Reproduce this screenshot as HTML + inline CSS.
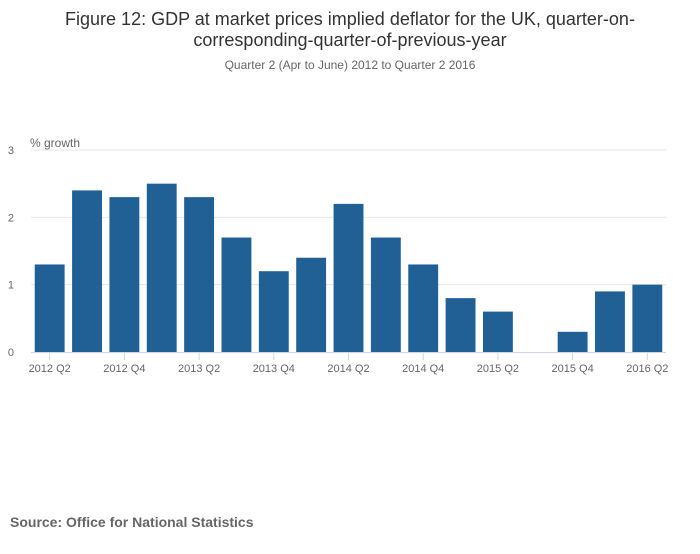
<!DOCTYPE html>
<html><head><meta charset="utf-8"><style>
body{margin:0;width:700px;height:549px;background:#fff;font-family:"Liberation Sans",sans-serif;overflow:hidden}
</style></head><body>
<svg width="700" height="549" xmlns="http://www.w3.org/2000/svg">
<text x="350" y="25" text-anchor="middle" font-size="18" fill="#333">Figure 12: GDP at market prices implied deflator for the UK, quarter-on-</text>
<text x="350" y="46" text-anchor="middle" font-size="18" fill="#333">corresponding-quarter-of-previous-year</text>
<text x="350" y="69" text-anchor="middle" font-size="12" fill="#666">Quarter 2 (Apr to June) 2012 to Quarter 2 2016</text>
<text x="30" y="147" font-size="12" fill="#666">% growth</text>
<g id="grid"></g><g id="bars"></g><g id="xaxis"></g>
<text x="10" y="527" font-size="14" font-weight="bold" fill="#666">Source: Office for National Statistics</text>
</svg>
<script>
const categories=["2012 Q2","2012 Q3","2012 Q4","2013 Q1","2013 Q2","2013 Q3","2013 Q4","2014 Q1","2014 Q2","2014 Q3","2014 Q4","2015 Q1","2015 Q2","2015 Q3","2015 Q4","2016 Q1","2016 Q2"];
const values=[1.3,2.4,2.3,2.5,2.3,1.7,1.2,1.4,2.2,1.7,1.3,0.8,0.6,0.0,0.3,0.9,1.0];
const yTicks=[0,1,2,3];
const ns="http://www.w3.org/2000/svg";
const x0=31,x1=666,yBase=352,yTop=150,yMax=3;
const band=(x1-x0)/categories.length;
const xPos=i=>x0+i*band;
const yPos=v=>yBase-(v/yMax)*(yBase-yTop);
function mk(t,a,p){const e=document.createElementNS(ns,t);for(const k in a)e.setAttribute(k,a[k]);p.appendChild(e);return e;}
const g=document.getElementById('grid');
yTicks.forEach(t=>{
 const y=yPos(t);
 if(t>0){const l=mk('line',{x1:x0,x2:x1,y1:y,y2:y,stroke:'#e6e6e6'},g);
 
 }
 const tx=mk('text',{x:14,y:y+4,'font-size':11,fill:'#666','text-anchor':'end'},g);tx.textContent=t;
 
 
});
const b=document.getElementById('bars');
values.forEach((v,i)=>{
 const r=mk('rect',{x:xPos(i)+band*0.1,width:band*0.8,y:yPos(v),height:yBase-yPos(v),fill:'#206095'},b);
 
 
});
const xa=document.getElementById('xaxis');
const ax=mk('line',{x1:x0,x2:x1,y1:yBase+0.5,y2:yBase+0.5,stroke:'#ccd6eb'},xa);


categories.forEach((c,i)=>{
 if(i%2) return;
 const cx=xPos(i)+band/2;
 mk('line',{x1:cx,x2:cx,y1:yBase,y2:yBase+8,stroke:'#ccd6eb'},xa);
 const t=mk('text',{x:cx,y:yBase+20,'font-size':11,fill:'#666','text-anchor':'middle'},xa);t.textContent=c;
 
 
});
</script>
</body></html>
